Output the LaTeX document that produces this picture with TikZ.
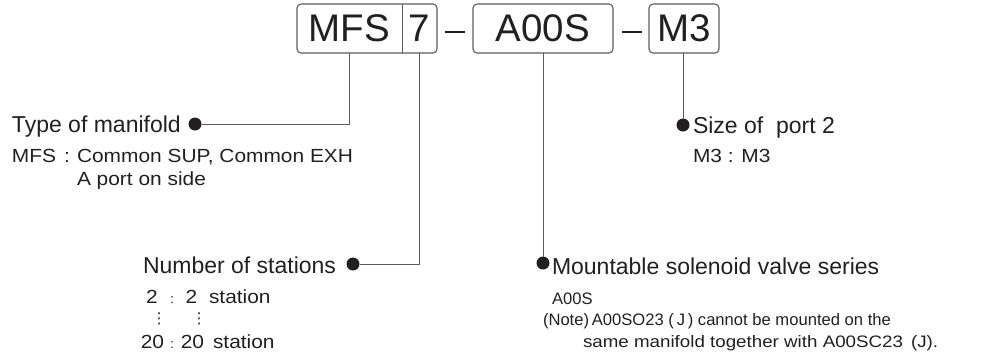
\documentclass[tikz,border=0pt]{standalone}
\usepackage{fontspec}
\setmainfont{Liberation Sans}
\newfontfamily\smallf[FakeStretch=1.1]{Liberation Sans}
\newfontfamily\widef[FakeStretch=1.13]{Liberation Sans}
\newfontfamily\symf{DejaVu Sans}
\definecolor{ink}{HTML}{231F20}
\definecolor{rulegray}{HTML}{5A5A5A}
\begin{document}
\begin{tikzpicture}[x=1pt,y=-1pt,
  every node/.style={inner sep=0pt, outer sep=0pt, text=ink},
  codebox/.style={minimum height=49pt, font=\fontsize{38.5}{40}\selectfont},
  frame/.style={draw=rulegray, line width=1.1pt, rounded corners=4pt},
  lead/.style={draw=rulegray, line width=1pt},
  dashline/.style={draw=ink, line width=1.4pt},
  dot/.style={circle, fill=ink, minimum size=13pt},
  mainlbl/.style={anchor=base west, font=\fontsize{23}{27}\selectfont},
  smalllbl/.style={anchor=base west, font=\smallf\fontsize{19}{22}\selectfont},
  smallmid/.style={anchor=base, font=\smallf\fontsize{19}{22}\selectfont},
  tinycolon/.style={anchor=base, font=\smallf\fontsize{13}{15}\selectfont},
  notelbl/.style={anchor=base west, font=\fontsize{16.6}{19}\selectfont},
  widelbl/.style={anchor=base west, font=\widef\fontsize{16.6}{19}\selectfont},
  vdot/.style={font=\symf\fontsize{15}{17}\selectfont},
]
\useasboundingbox (0,0) rectangle (1002,357);

% code boxes
\node[codebox, minimum width=105pt] (mfs) at (349.5,28.5) {MFS};
\node[codebox, minimum width=35pt] (seven) at (419.5,28.5) {7};
\draw[frame] (mfs.north west) rectangle (seven.south east);
\draw[lead] (mfs.north east) -- (mfs.south east);
\node[codebox, frame, minimum width=140pt] (a00s) at (543,28.5) {A00S};
\node[codebox, frame, minimum width=70pt] (m3) at (684,28.5) {M3};

% dashes between boxes
\coordinate (da1) at (445,32); \coordinate (da2) at (465,32);
\coordinate (db1) at (622,32); \coordinate (db2) at (642,32);
\draw[dashline] (da1) -- (da2);
\draw[dashline] (db1) -- (db2);

% dots and leaders
\node[dot] (d1) at (195,124) {};
\node[dot] (d2) at (353,264) {};
\node[dot] (d3) at (543,263) {};
\node[dot] (d4) at (683,125) {};
\draw[lead] (mfs.south) |- (d1);
\draw[lead] (seven.south) |- (d2);
\draw[lead] (d3 |- a00s.south) -- (d3);
\draw[lead] (d4 |- m3.south) -- (d4);

% Type of manifold
\node[mainlbl] (t1) at (12,132) {Type of manifold};
\node[smalllbl] (t1a) at (12,162) {MFS};
\node[smallmid] (t1c) at (67,162) {:};
\node[smalllbl] (t1b) at (77,162) {Common SUP, Common EXH};
\node[smalllbl] (t1d) at (77,185) {A port on side};

% Number of stations
\node[mainlbl] (t2) at (143,273) {Number of stations};
\node[smallmid] (r1a) at (152,303) {2};
\node[tinycolon] (r1c) at (172,303) {:};
\node[smallmid] (r1b) at (191.5,303) {2};
\node[smalllbl] (r1s) at (209,303) {station};
\node[vdot] (v1) at (159,319) {⋮};
\node[vdot] (v2) at (199,319) {⋮};
\node[smallmid] (r2a) at (152.5,348) {20};
\node[tinycolon] (r2c) at (172,348) {:};
\node[smallmid] (r2b) at (192.5,348) {20};
\node[smalllbl] (r2s) at (213,348) {station};

% Mountable solenoid valve series
\node[mainlbl] (t3) at (552,274) {Mountable solenoid valve series};
\node[notelbl] (t3a) at (552,304) {A00S};
\node[notelbl] (t3b) at (543,325) {(Note)\,A00SO23 (\,J\,) cannot be mounted on the};
\node[widelbl] (t3c) at (583,347) {same manifold together with A00SC23\hspace{8pt}(J).};

% Size of port 2
\node[mainlbl] (t4) at (693,133) {Size of~~port 2};
\node[smalllbl] (t4a) at (693,162) {M3 : M3};
\end{tikzpicture}
\end{document}
